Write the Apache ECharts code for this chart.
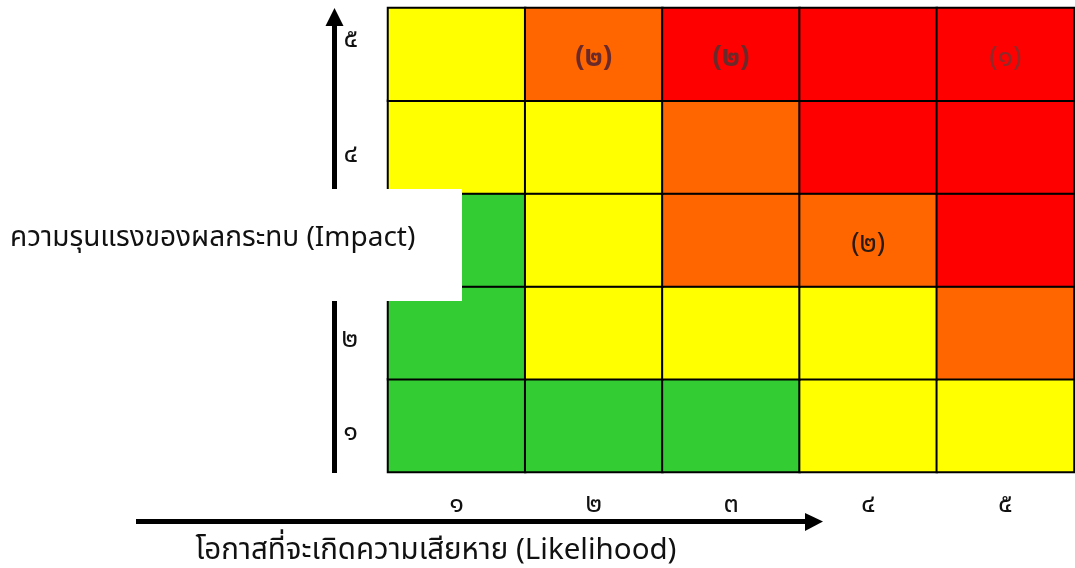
<!DOCTYPE html>
<html><head><meta charset="utf-8">
<script src="https://cdn.jsdelivr.net/npm/echarts@6/dist/echarts.min.js"></script>
<style>html,body{margin:0;padding:0;background:#fff}#c{width:1075px;height:568px}</style>
</head><body><div id="c"></div>
<script>
// Likelihood (x) and Impact (y) categories, Thai numerals
const likelihood = ['๑', '๒', '๓', '๔', '๕'];
const impact = ['๑', '๒', '๓', '๔', '๕'];
// Risk level per cell: 1 = low (green), 2 = medium (yellow), 3 = high (orange), 4 = very high (red)
// one array per impact row, values by likelihood column ๑..๕
const levelImpact1 = [1, 1, 1, 2, 2];
const levelImpact2 = [1, 2, 2, 2, 3];
const levelImpact3 = [1, 2, 3, 3, 4];
const levelImpact4 = [2, 2, 3, 4, 4];
const levelImpact5 = [2, 3, 4, 4, 4];
// Number of risks in a cell: [likelihood index, impact index, text]
const cellCounts = [[1, 4, '(๒)'], [2, 4, '(๒)'], [4, 4, '(๑)'], [3, 2, '(๒)']];
const xTitle = 'โอกาสที่จะเกิดความเสียหาย (Likelihood)';
const yTitle = 'ความรุนแรงของผลกระทบ (Impact)';

const FONT = "'Noto Sans Thai','Noto Sans','Tahoma',sans-serif";
const levelColors = {1: '#33CC33', 2: '#FFFF00', 3: '#FF6600', 4: '#FF0000'};
const rows = [levelImpact1, levelImpact2, levelImpact3, levelImpact4, levelImpact5];
const countMap = {};
cellCounts.forEach(c => { countMap[c[0] + ',' + c[1]] = c[2]; });
const labelColor = {'1,4': '#6B2A2A', '2,4': '#6B2A2A', '4,4': '#8E2A2A', '3,2': '#2A1A12'};
const labelWeight = {'1,4': 'bold', '2,4': 'bold', '4,4': 'normal', '3,2': 'normal'};

const data = [];
rows.forEach((row, yi) => row.forEach((lv, xi) => {
  const key = xi + ',' + yi;
  const item = {value: [xi, yi, lv], itemStyle: {color: levelColors[lv]}};
  if (countMap[key]) {
    item.label = {show: true, formatter: countMap[key], color: labelColor[key], fontWeight: labelWeight[key]};
  }
  data.push(item);
}));

const chart = echarts.init(document.getElementById('c'));
chart.setOption({
  animation: false,
  grid: {left: 388, top: 8, right: 1, bottom: 96},
  xAxis: {
    type: 'category', data: likelihood,
    axisLine: {show: false}, axisTick: {show: false}, splitLine: {show: false},
    axisLabel: {margin: 21, fontSize: 27, color: '#111', fontFamily: FONT}
  },
  yAxis: {
    type: 'category', data: impact,
    axisLine: {show: false}, axisTick: {show: false}, splitLine: {show: false},
    axisLabel: {
      margin: 30, fontSize: 27, color: '#111', fontFamily: FONT,
      formatter: (v, i) => (i === impact.length - 1 ? '{up|' + v + '}' : '{dn|' + v + '}'),
      rich: {
        up: {fontSize: 27, fontFamily: FONT, color: '#111', padding: [0, 0, 26, 0]},
        dn: {fontSize: 27, fontFamily: FONT, color: '#111', padding: [18, 0, 0, 0]}
      }
    }
  },
  series: [{
    type: 'heatmap',
    data: data,
    itemStyle: {borderColor: '#000', borderWidth: 2},
    label: {show: false, fontSize: 28, fontFamily: FONT, offset: [0, 6]},
    emphasis: {disabled: true}
  }],
  graphic: [
    // vertical arrow (Impact)
    {type: 'rect', z: 50, shape: {x: 332, y: 22, width: 5, height: 451}, style: {fill: '#000'}},
    {type: 'polygon', z: 50, shape: {points: [[325.5, 26], [343.5, 26], [334.5, 8]]}, style: {fill: '#000'}},
    // horizontal arrow (Likelihood)
    {type: 'rect', z: 50, shape: {x: 136, y: 519, width: 672, height: 5}, style: {fill: '#000'}},
    {type: 'polygon', z: 50, shape: {points: [[805, 513], [805, 531], [823, 521.5]]}, style: {fill: '#000'}},
    {type: 'text', z: 50, style: {text: xTitle, x: 436, y: 553, align: 'center', verticalAlign: 'middle', fill: '#111', font: '29.5px ' + FONT}},
    // white label box for Impact title
    {type: 'rect', z: 100, shape: {x: 0, y: 189, width: 462, height: 112}, style: {fill: '#fff'}},
    {type: 'text', z: 101, style: {text: yTitle, x: 10, y: 240, align: 'left', verticalAlign: 'middle', fill: '#111', font: '28px ' + FONT}}
  ]
});
</script></body></html>
